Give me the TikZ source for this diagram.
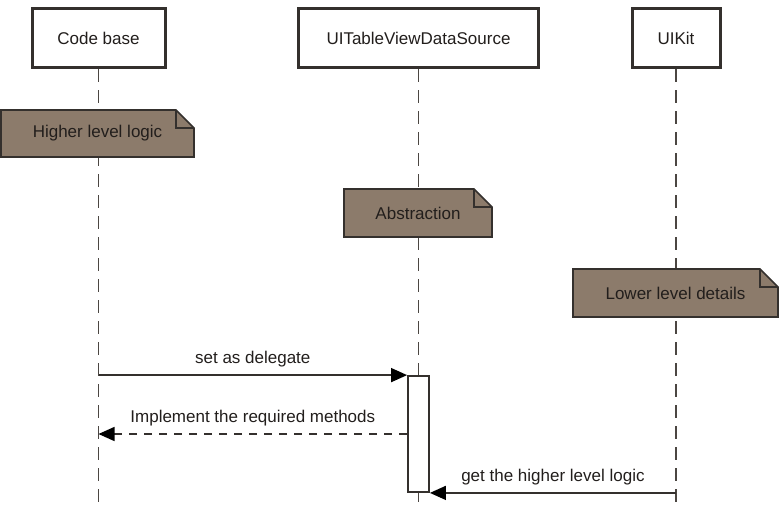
\documentclass[tikz,border=0pt]{standalone}
\usepackage{fontspec}
\setmainfont{Liberation Sans}
\usetikzlibrary{arrows.meta}

\definecolor{notefill}{RGB}{140,123,107}
\definecolor{inkdark}{RGB}{52,48,45}
\definecolor{lifegray}{RGB}{75,70,66}
\definecolor{textdark}{RGB}{34,30,28}

\tikzset{
  actor/.style={draw=inkdark, line width=3pt, fill=white, minimum height=59pt,
    font=\fontsize{17}{20}\selectfont, text=textdark},
  lifeline/.style={draw=lifegray, line width=1.7pt, dash pattern=on 13pt off 8pt},
  notebox/.style={draw=inkdark, line width=1.6pt, fill=notefill, line join=miter},
  notetext/.style={font=\fontsize{17}{20}\selectfont, text=textdark},
  activation/.style={draw=inkdark, line width=1.8pt, fill=white,
    minimum width=21pt, minimum height=116pt, inner sep=0pt},
  msg/.style={draw=inkdark, line width=1.4pt,
    -{Triangle[length=16pt,width=14pt,color=black]}},
  reply/.style={msg, dash pattern=on 8pt off 7pt},
  msglabel/.style={font=\fontsize{17}{20}\selectfont, text=textdark, above=4pt}
}

% note with a folded corner: name, left, top, right, bottom, text
\newcommand{\umlnote}[6]{%
  \draw[notebox] (#2,#3) -- ({#4-18},#3) -- (#4,{#3+18}) -- (#4,#5) -- (#2,#5) -- cycle;
  \draw[notebox, fill=none] ({#4-18},#3) -- ({#4-18},{#3+18}) -- (#4,{#3+18});
  \node[notetext] (#1) at ({(#2+#4)/2},{(#3+#5)/2}) {#6};
}

\begin{document}
\begin{tikzpicture}[x=1pt, y=-1pt]
\useasboundingbox (0,0) rectangle (781,506);

% participants
\node[actor, minimum width=133pt] (code) at (98.5,38) {Code base};
\node[actor, minimum width=240pt] (source) at (418.5,38) {UITableViewDataSource};
\node[actor, minimum width=88pt] (uikit) at (676,38) {UIKit};

% lifelines
\coordinate (code-end) at (98.5,502);
\coordinate (source-end) at (418.5,502);
\coordinate (uikit-end) at (676,502);
\draw[lifeline] (code.south) -- (code-end);
\draw[lifeline] (source.south) -- (source-end);
\draw[lifeline] (uikit.south) -- (uikit-end);

% notes
\umlnote{higher}{1}{110}{194}{157}{Higher level logic}
\umlnote{abstr}{344}{189}{492}{237}{Abstraction}
\umlnote{lower}{573}{269}{778}{317}{Lower level details}

% activation
\node[activation] (act) at (418.5,434) {};

% messages
\draw[msg] (code |- act.north) -- (act.north west)
  node[msglabel, midway] {set as delegate};
\draw[reply] (act.west) -- (code |- act.west)
  node[msglabel, midway] {Implement the required methods};
\draw[msg] (uikit |- act.south) -- (act.south east)
  node[msglabel, midway] {get the higher level logic};
\end{tikzpicture}
\end{document}
